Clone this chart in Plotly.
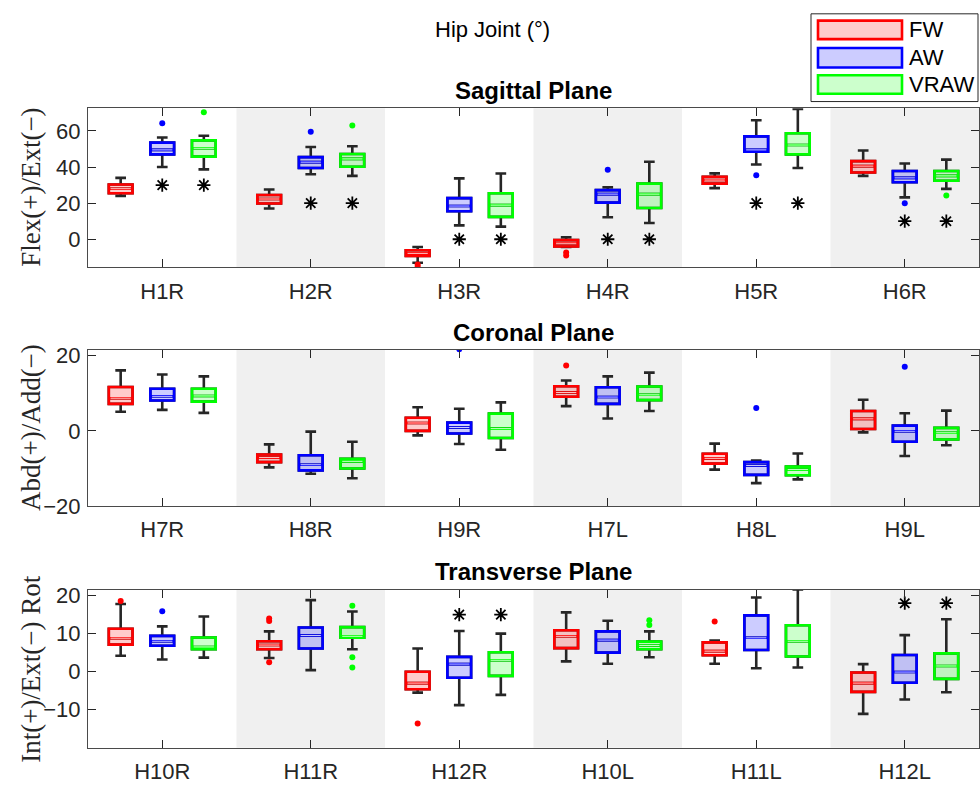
import plotly.graph_objects as go

# ---------------- data ----------------
conditions = ["FW", "AW", "VRAW"]
line_colors = ["#ff0000", "#0000ff", "#00ff00"]
fill_colors = ["rgba(255,0,0,0.2)", "rgba(0,0,255,0.2)", "rgba(0,255,0,0.2)"]
offsets = [-0.28, 0.0, 0.28]

# Sagittal plane
sag_groups = ["H1R", "H2R", "H3R", "H4R", "H5R", "H6R"]
sag_fw_lo = [24, 17, -13, -4.2, 28.3, 35.1]
sag_fw_q1 = [25.5, 19.8, -9.2, -4, 30.8, 37]
sag_fw_med = [28, 22.3, -7.8, -2.2, 32.8, 40.5]
sag_fw_q3 = [30.3, 24.5, -6.1, -0.5, 34.6, 43.3]
sag_fw_hi = [34, 27.6, -4.3, 1.1, 36.5, 49.2]
sag_fw_out = [[], [], [-14.0, -15.2], [-7.3, -9.0], [], []]
sag_fw_sig = [None] * 6

sag_aw_lo = [40, 36, 7.7, 12.2, 41.4, 23.2]
sag_aw_q1 = [47, 39.5, 15.5, 20.3, 48.5, 31.6]
sag_aw_med = [49.5, 42.7, 18.4, 25, 49.5, 34]
sag_aw_q3 = [53.5, 45.5, 22.8, 27.2, 57, 37.8]
sag_aw_hi = [56.4, 51.1, 33.7, 28.8, 65.9, 42]
sag_aw_out = [[64.3], [59.6], [], [38.5], [35.5], [20]]
sag_aw_sig = [30, 20, 0, 0, 20, 10]

sag_vr_lo = [38.7, 35.1, 7, 9, 39.5, 27.9]
sag_vr_q1 = [45.8, 40.2, 12.4, 17.3, 47, 32.4]
sag_vr_med = [50.4, 44.5, 18.9, 25, 52.2, 35.1]
sag_vr_q3 = [54.8, 47.2, 25.5, 30.8, 58.7, 37.8]
sag_vr_hi = [57.3, 51.5, 36.4, 42.9, 72.2, 44.1]
sag_vr_out = [[70.3], [63], [], [], [], [24.3]]
sag_vr_sig = [30, 20, 0, 0, 20, 10]

# Coronal plane
cor_groups = ["H7R", "H8R", "H9R", "H7L", "H8L", "H9L"]
cor_fw_lo = [5.1, -9.7, -1.2, 6.6, -10.3, -0.4]
cor_fw_q1 = [7.2, -8.3, 0, 9.1, -8.7, 0.5]
cor_fw_med = [8.7, -7.1, 2.1, 10.2, -7.3, 3.2]
cor_fw_q3 = [11.7, -6.3, 3.5, 11.9, -6.1, 5.3]
cor_fw_hi = [16.1, -3.6, 6.3, 13.4, -3.4, 8.3]
cor_fw_out = [[], [], [], [17.4], [], []]
cor_fw_sig = [None] * 6

cor_aw_lo = [5.6, -11.4, -3.5, 3.3, -13.9, -6.7]
cor_aw_q1 = [8.1, -10.5, -0.7, 7.2, -11.7, -2.9]
cor_aw_med = [9.2, -9, 0.9, 9, -9.2, -0.1]
cor_aw_q3 = [11.2, -6.5, 2.2, 11.6, -8.3, 1.4]
cor_aw_hi = [15, -0.2, 5.9, 14.5, -7.9, 4.7]
cor_aw_out = [[], [], [21.7], [], [6.1], [17.1]]
cor_aw_sig = [None] * 6

cor_vr_lo = [4.8, -12.6, -5, 5.3, -12.9, -3.8]
cor_vr_q1 = [7.8, -10, -1.9, 8.2, -11.8, -2.3]
cor_vr_med = [9.3, -8.1, 0.6, 9.6, -10.3, -0.5]
cor_vr_q3 = [11.2, -7.4, 4.6, 11.8, -9.5, 0.8]
cor_vr_hi = [14.5, -2.9, 7.6, 15.5, -6, 5.4]
cor_vr_out = [[], [], [], [], [], []]
cor_vr_sig = [None] * 6

# Transverse plane
tra_groups = ["H10R", "H11R", "H12R", "H10L", "H11L", "H12L"]
tra_fw_lo = [4.2, 3.6, -5.5, 2.7, 2.1, -11.1]
tra_fw_q1 = [7.1, 5.9, -4.6, 6.2, 4.3, -5.3]
tra_fw_med = [8.8, 7, -3, 9.3, 5.4, -3]
tra_fw_q3 = [11.3, 8, 0, 10.9, 7.7, -0.2]
tra_fw_hi = [17.8, 10.6, 6.1, 15.6, 8.2, 2]
tra_fw_out = [[18.6], [14, 13.3, 2.5], [-13.6], [], [13.2], []]
tra_fw_sig = [None] * 6

tra_aw_lo = [3.2, 0.4, -8.8, 2.1, 0.9, -7.3]
tra_aw_q1 = [6.8, 6.1, -1.6, 5, 5.7, -2.9]
tra_aw_med = [8, 9.5, 2, 8.3, 8.9, -0.1]
tra_aw_q3 = [9.4, 11.6, 3.9, 10.6, 14.8, 4.4]
tra_aw_hi = [11.9, 18.8, 10.7, 13.4, 19.5, 9.6]
tra_aw_out = [[15.9], [], [], [], [], []]
tra_aw_sig = [None, None, 15, None, None, 18]

tra_vr_lo = [3.7, 5.9, -6.1, 3.8, 1.1, -5.4]
tra_vr_q1 = [5.9, 8.9, -1.1, 5.9, 4, -1.9]
tra_vr_med = [6.5, 9.3, 3, 6.9, 8, 1.5]
tra_vr_q3 = [9, 11.7, 5.1, 7.9, 12.2, 4.8]
tra_vr_hi = [14.5, 15.8, 10, 10.6, 21.6, 13.8]
tra_vr_out = [[], [17.3, 3.8, 1.1], [], [13.5, 12.3], [], []]
tra_vr_sig = [None, None, 15, None, None, 18]

panels = [
    dict(title="Sagittal Plane", ylabel="Flex(+)/Ext(\u2212)", groups=sag_groups,
         yrange=[-15.5, 72.5], ytick=[0, 20, 40, 60],
         series=[(sag_fw_lo, sag_fw_q1, sag_fw_med, sag_fw_q3, sag_fw_hi, sag_fw_out, sag_fw_sig),
                 (sag_aw_lo, sag_aw_q1, sag_aw_med, sag_aw_q3, sag_aw_hi, sag_aw_out, sag_aw_sig),
                 (sag_vr_lo, sag_vr_q1, sag_vr_med, sag_vr_q3, sag_vr_hi, sag_vr_out, sag_vr_sig)]),
    dict(title="Coronal Plane", ylabel="Abd(+)/Add(\u2212)", groups=cor_groups,
         yrange=[-20, 21.5], ytick=[-20, 0, 20],
         series=[(cor_fw_lo, cor_fw_q1, cor_fw_med, cor_fw_q3, cor_fw_hi, cor_fw_out, cor_fw_sig),
                 (cor_aw_lo, cor_aw_q1, cor_aw_med, cor_aw_q3, cor_aw_hi, cor_aw_out, cor_aw_sig),
                 (cor_vr_lo, cor_vr_q1, cor_vr_med, cor_vr_q3, cor_vr_hi, cor_vr_out, cor_vr_sig)]),
    dict(title="Transverse Plane", ylabel="Int(+)/Ext(\u2212) Rot", groups=tra_groups,
         yrange=[-20, 21.5], ytick=[-10, 0, 10, 20],
         series=[(tra_fw_lo, tra_fw_q1, tra_fw_med, tra_fw_q3, tra_fw_hi, tra_fw_out, tra_fw_sig),
                 (tra_aw_lo, tra_aw_q1, tra_aw_med, tra_aw_q3, tra_aw_hi, tra_aw_out, tra_aw_sig),
                 (tra_vr_lo, tra_vr_q1, tra_vr_med, tra_vr_q3, tra_vr_hi, tra_vr_out, tra_vr_sig)]),
]

# ---------------- layout geometry (pixels) ----------------
W, H = 980, 791
ML, MR = 88, 1
PW = W - ML - MR
panel_px = [(104, 267), (352, 512), (598, 760)]   # top/bottom pixel rows of each axes box
title_px = [86, 334, 579]


def py(p):
    return 1 - p / H


def px(p):
    return (p - ML) / PW


BOX_W = 0.16
DARK = "#262626"
AX_FONT = dict(family="Liberation Sans, Arial, sans-serif", size=22, color=DARK)

fig = go.Figure()
shapes, annotations = [], []

for k, pan in enumerate(panels):
    sfx = "" if k == 0 else str(k + 1)
    xa, ya = "x" + sfx, "y" + sfx
    n = len(pan["groups"])
    pos = list(range(1, n + 1))

    for c, (lo, q1, med, q3, hi, outs, sig) in enumerate(pan["series"]):
        xs = [p + offsets[c] for p in pos]
        # whiskers and caps (dark)
        fig.add_trace(go.Box(
            x=xs, q1=q1, median=med, q3=q3, lowerfence=lo, upperfence=hi,
            width=BOX_W, whiskerwidth=0.45, boxpoints=False,
            line=dict(color=DARK, width=2.6), fillcolor="rgba(0,0,0,0)",
            xaxis=xa, yaxis=ya, showlegend=False, hoverinfo="skip"))
        # coloured box body
        fig.add_trace(go.Box(
            x=xs, q1=q1, median=med, q3=q3, lowerfence=q1, upperfence=q3,
            width=BOX_W, whiskerwidth=0, boxpoints=False,
            line=dict(color=line_colors[c], width=2.6), fillcolor=fill_colors[c],
            xaxis=xa, yaxis=ya, name=conditions[c], showlegend=False))
        # light stripe through the median
        mx, my = [], []
        for xv, mv in zip(xs, med):
            mx += [xv - BOX_W / 2 + 0.012, xv + BOX_W / 2 - 0.012, None]
            my += [mv, mv, None]
        fig.add_trace(go.Scatter(
            x=mx, y=my, mode="lines", line=dict(color="rgba(255,255,255,0.8)", width=1),
            xaxis=xa, yaxis=ya, showlegend=False, hoverinfo="skip"))
        # outliers
        ox, oy = [], []
        for xv, ol in zip(xs, outs):
            for v in ol:
                ox.append(xv)
                oy.append(v)
        if ox:
            fig.add_trace(go.Scatter(
                x=ox, y=oy, mode="markers",
                marker=dict(color=line_colors[c], size=6),
                xaxis=xa, yaxis=ya, showlegend=False))
        # significance markers
        sx = [xv for xv, s in zip(xs, sig) if s is not None]
        sy = [s for s in sig if s is not None]
        if sx:
            fig.add_trace(go.Scatter(
                x=sx, y=sy, mode="markers",
                marker=dict(symbol="asterisk-open", size=11, color="black",
                            line=dict(color="black", width=1.8)),
                xaxis=xa, yaxis=ya, showlegend=False))

    # alternating shaded group bands
    for p in pos:
        if p % 2 == 0:
            shapes.append(dict(type="rect", xref=xa, yref=ya + " domain",
                               x0=p - 0.5, x1=p + 0.5, y0=0, y1=1,
                               fillcolor="#f0f0f0", line=dict(width=0), layer="below"))

    top, bot = panel_px[k]
    fig.layout["xaxis" + sfx] = dict(
        domain=[0, 1], anchor=ya, range=[0.5, n + 0.5],
        tickvals=pos, ticktext=pan["groups"], ticks="inside", ticklen=8,
        tickcolor=DARK, showline=True, linecolor="#4a4a4a", linewidth=1,
        mirror="ticks", showgrid=False, zeroline=False, tickfont=AX_FONT,
        ticklabelstandoff=4)
    fig.layout["yaxis" + sfx] = dict(
        domain=[py(bot), py(top)], anchor=xa, range=pan["yrange"],
        tickvals=pan["ytick"], ticks="inside", ticklen=8, tickcolor=DARK,
        showline=True, linecolor="#4a4a4a", linewidth=1, mirror="ticks",
        showgrid=False, zeroline=False, tickfont=AX_FONT, ticklabelstandoff=2)

    annotations.append(dict(text="<b>" + pan["title"] + "</b>", xref="paper", yref="paper",
                            x=0.5, y=py(title_px[k]), xanchor="center", yanchor="middle",
                            showarrow=False,
                            font=dict(family="Liberation Sans, Arial, sans-serif",
                                      size=24, color="black")))
    annotations.append(dict(text=pan["ylabel"], xref="paper", yref="paper",
                            x=px(31), y=py((top + bot) / 2), textangle=-90,
                            xanchor="center", yanchor="middle", showarrow=False,
                            font=dict(family="Liberation Serif, serif", size=27,
                                      color=DARK)))

# figure title
annotations.append(dict(text="Hip Joint (\u00b0)", xref="paper", yref="paper",
                        x=px(492), y=py(23), xanchor="center", yanchor="middle",
                        showarrow=False,
                        font=dict(family="Liberation Sans, Arial, sans-serif",
                                  size=22, color="black")))

# legend box
shapes.append(dict(type="rect", xref="paper", yref="paper",
                   x0=px(811), x1=px(978), y0=py(97), y1=py(7),
                   fillcolor="white", line=dict(color=DARK, width=1), layer="above"))
sw_rows = [(14, 33), (42, 62), (70, 89)]
for c, name in enumerate(conditions):
    t, b = sw_rows[c]
    shapes.append(dict(type="rect", xref="paper", yref="paper",
                       x0=px(818), x1=px(902), y0=py(b), y1=py(t),
                       fillcolor=fill_colors[c],
                       line=dict(color=line_colors[c], width=2.6), layer="above"))
    annotations.append(dict(text=name, xref="paper", yref="paper",
                            x=px(907), y=py((t + b) / 2), xanchor="left",
                            yanchor="middle", showarrow=False,
                            font=dict(family="Liberation Sans, Arial, sans-serif",
                                      size=22, color="black")))

fig.update_layout(
    width=W, height=H, autosize=False,
    margin=dict(l=ML, r=MR, t=0, b=0),
    paper_bgcolor="white", plot_bgcolor="white",
    boxmode="overlay", showlegend=False,
    shapes=shapes, annotations=annotations,
)

fig.write_html("out.html")
